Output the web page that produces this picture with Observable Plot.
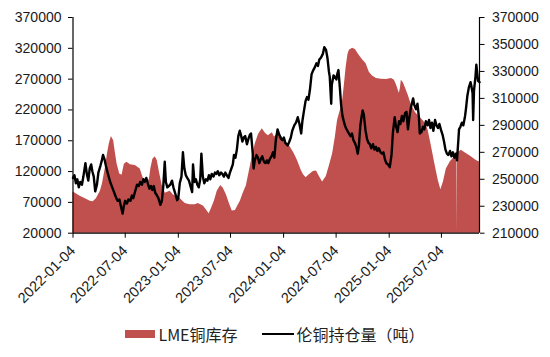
<!DOCTYPE html>
<html>
<head>
<meta charset="utf-8">
<script src="https://cdn.jsdelivr.net/npm/d3@7"></script>
<script src="https://cdn.jsdelivr.net/npm/@observablehq/plot@0.6"></script>
<style>
  html, body { margin: 0; padding: 0; background: #fff; }
  #chart { width: 550px; }
  #legend { display: flex; justify-content: center; align-items: center; gap: 24px;
    font: 16px "Noto Sans CJK SC", sans-serif; color: #222; height: 22px; line-height: 22px; margin-top: 3px; }
  .item { display: flex; align-items: center; }
  .sw-area { display: inline-block; width: 30px; height: 8px; background: #C0504D; margin-right: 3px; }
  .sw-line { display: inline-block; width: 32px; height: 2px; background: #000; margin-right: 3px; }
</style>
</head>
<body>
<div id="chart"></div>
<div id="legend">
  <div class="item"><span class="sw-area"></span><span>LME铜库存</span></div>
  <div class="item"><span class="sw-line"></span><span>伦铜持仓量（吨）</span></div>
</div>
<script>
const seriesNames = ["LME铜库存", "伦铜持仓量（吨）"];
const xTickLabels = ["2022-01-04","2022-07-04","2023-01-04","2023-07-04","2024-01-04","2024-07-04","2025-01-04","2025-07-04"];
const xDomain = ["2022-01-04", "2025-11-13"];
const leftTicks = [20000,70000,120000,170000,220000,270000,320000,370000];
const rightTicks = [210000,230000,250000,270000,290000,310000,330000,350000,370000];

// LME copper inventory (left axis)
const inventory = [
["2022-01-04",87000],["2022-01-12",85000],["2022-01-29",80000],["2022-02-16",76000],["2022-03-05",72000],["2022-03-15",71000],["2022-03-26",76000],["2022-04-09",88000],["2022-04-16",100000],["2022-04-26",125000],["2022-05-04",150000],["2022-05-10",165000],["2022-05-17",177000],["2022-05-25",170000],["2022-05-31",150000],["2022-06-06",132000],["2022-06-15",116000],["2022-06-23",114000],["2022-07-01",132000],["2022-07-10",135000],["2022-07-22",131000],["2022-08-08",130000],["2022-08-25",124000],["2022-09-04",110000],["2022-09-18",100000],["2022-09-26",108000],["2022-10-01",125000],["2022-10-08",140000],["2022-10-16",144000],["2022-10-23",138000],["2022-10-31",118000],["2022-11-09",98000],["2022-11-20",85000],["2022-11-30",87000],["2022-12-07",88000],["2022-12-18",82000],["2022-12-28",80000],
["2023-01-11",76000],["2023-01-28",68000],["2023-02-14",66000],["2023-03-04",66000],["2023-03-14",68000],["2023-04-01",64000],["2023-04-11",58000],["2023-04-21",51500],["2023-04-29",60000],["2023-05-09",72000],["2023-05-19",88000],["2023-05-31",97500],["2023-06-09",93000],["2023-06-20",82000],["2023-06-30",68000],["2023-07-10",56000],["2023-07-21",57000],["2023-08-07",72000],["2023-08-17",85000],["2023-08-28",97000],["2023-09-07",120000],["2023-09-17",143000],["2023-09-28",165000],["2023-10-09",180000],["2023-10-22",189600],["2023-11-02",182000],["2023-11-12",178000],["2023-11-26",183000],["2023-12-03",176000],["2023-12-13",180000],["2023-12-27",178000],
["2024-01-10",168000],["2024-01-27",160000],["2024-02-10",149000],["2024-02-21",138000],["2024-03-05",122000],["2024-03-13",115000],["2024-03-22",110000],["2024-04-02",115000],["2024-04-16",120000],["2024-04-27",121000],["2024-05-07",112000],["2024-05-18",103000],["2024-05-31",112000],["2024-06-11",130000],["2024-06-22",149000],["2024-07-01",175000],["2024-07-09",203000],["2024-07-19",220000],["2024-07-27",236000],["2024-08-02",262000],["2024-08-08",290000],["2024-08-14",310000],["2024-08-19",317000],["2024-08-30",320000],["2024-09-09",318000],["2024-09-16",313000],["2024-09-23",308000],["2024-10-03",302000],["2024-10-16",295000],["2024-10-27",281000],["2024-11-07",275000],["2024-11-21",271000],["2024-12-08",270000],["2024-12-25",269500],
["2025-01-12",271000],["2025-01-22",268000],["2025-01-29",261000],["2025-02-08",247000],["2025-02-12",255000],["2025-02-15",268000],["2025-02-22",264000],["2025-03-01",256000],["2025-03-11",244000],["2025-03-22",228000],["2025-04-05",216000],["2025-04-20",208000],["2025-05-03",202000],["2025-05-13",195000],["2025-05-19",187000],["2025-05-30",162000],["2025-06-11",133000],["2025-06-23",106000],["2025-07-02",90500],["2025-07-11",103000],["2025-07-21",124000],["2025-08-04",136000],["2025-08-19",143500],["2025-08-27",148000],["2025-08-28",20000],["2025-08-29",150000],["2025-09-11",154500],["2025-09-25",150000],["2025-10-13",145000],["2025-11-02",138000],["2025-11-13",135500]
];

// LME copper open interest (right axis)
const holdings = [
["2022-01-04",251000],["2022-01-09",253000],["2022-01-14",247000],["2022-01-19",250000],["2022-01-24",244000],["2022-01-29",248000],["2022-02-04",246000],["2022-02-09",252000],["2022-02-16",262000],["2022-02-21",254000],["2022-02-26",249000],["2022-03-03",258000],["2022-03-08",261000],["2022-03-12",256000],["2022-03-17",252000],["2022-03-22",241000],["2022-03-28",246000],["2022-04-02",255000],["2022-04-09",260000],["2022-04-14",264000],["2022-04-18",268000],["2022-04-23",265000],["2022-04-28",260000],["2022-05-05",254000],["2022-05-13",248000],["2022-05-20",244000],["2022-05-27",240000],["2022-06-03",236000],["2022-06-08",234000],["2022-06-14",235000],["2022-06-19",230000],["2022-06-25",224500],["2022-06-29",230000],["2022-07-04",234000],["2022-07-10",232000],["2022-07-15",235000],["2022-07-22",234000],["2022-07-27",238000],["2022-08-01",236000],["2022-08-06",240000],["2022-08-14",246000],["2022-08-20",245000],["2022-08-25",248000],["2022-08-31",246000],["2022-09-05",250000],["2022-09-10",248000],["2022-09-15",251000],["2022-09-20",247000],["2022-09-26",243000],["2022-10-01",245000],["2022-10-06",242000],["2022-10-11",245000],["2022-10-16",240000],["2022-10-22",238000],["2022-10-27",236000],["2022-11-03",231000],["2022-11-08",234000],["2022-11-13",245000],["2022-11-18",263000],["2022-11-22",248000],["2022-11-27",244000],["2022-12-02",245000],["2022-12-07",246000],["2022-12-13",249000],["2022-12-18",244000],["2022-12-25",239000],["2022-12-31",234500],
["2023-01-04",236000],["2023-01-09",247000],["2023-01-15",252000],["2023-01-20",270000],["2023-01-25",258000],["2023-01-30",253000],["2023-02-04",251000],["2023-02-10",249000],["2023-02-15",245000],["2023-02-21",240500],["2023-02-24",261000],["2023-03-01",248000],["2023-03-06",250000],["2023-03-11",246000],["2023-03-16",244000],["2023-03-21",250000],["2023-03-25",269000],["2023-03-30",252000],["2023-04-04",247000],["2023-04-10",250000],["2023-04-15",249000],["2023-04-20",253000],["2023-04-25",250000],["2023-04-30",254000],["2023-05-06",252000],["2023-05-11",255000],["2023-05-16",254000],["2023-05-21",256000],["2023-05-26",253000],["2023-06-01",255000],["2023-06-06",254000],["2023-06-11",252000],["2023-06-16",255000],["2023-06-21",253000],["2023-06-27",251000],["2023-07-02",255000],["2023-07-07",258000],["2023-07-12",261000],["2023-07-16",268000],["2023-07-21",266000],["2023-07-26",272000],["2023-07-31",282000],["2023-08-05",286000],["2023-08-09",283000],["2023-08-14",278000],["2023-08-19",281000],["2023-08-24",282000],["2023-08-30",276000],["2023-09-04",280000],["2023-09-09",283000],["2023-09-13",284000],["2023-09-18",272000],["2023-09-22",258000],["2023-09-26",264000],["2023-10-02",268000],["2023-10-07",266000],["2023-10-12",262000],["2023-10-17",265000],["2023-10-22",267000],["2023-10-28",263000],["2023-11-02",262000],["2023-11-07",264000],["2023-11-12",262000],["2023-11-17",265000],["2023-11-23",267000],["2023-11-28",270000],["2023-12-03",266000],["2023-12-08",279000],["2023-12-14",287000],["2023-12-20",283000],["2023-12-26",280000],["2023-12-31",279000],
["2024-01-05",281000],["2024-01-10",277000],["2024-01-18",275000],["2024-01-24",278000],["2024-01-29",281000],["2024-02-03",286000],["2024-02-10",290000],["2024-02-16",292000],["2024-02-22",296000],["2024-02-28",291000],["2024-03-05",284000],["2024-03-09",293000],["2024-03-14",300000],["2024-03-20",308000],["2024-03-25",311000],["2024-03-30",309000],["2024-04-04",316000],["2024-04-10",328000],["2024-04-16",331000],["2024-04-21",333000],["2024-04-27",336000],["2024-05-02",334000],["2024-05-07",339000],["2024-05-12",340000],["2024-05-19",343000],["2024-05-24",348000],["2024-05-30",346000],["2024-06-04",340000],["2024-06-09",330000],["2024-06-12",326000],["2024-06-17",306000],["2024-06-19",320000],["2024-06-25",327000],["2024-06-30",326000],["2024-07-05",324000],["2024-07-08",328000],["2024-07-12",331000],["2024-07-17",318000],["2024-07-21",306000],["2024-07-26",297000],["2024-08-02",291000],["2024-08-07",288000],["2024-08-12",286000],["2024-08-17",284000],["2024-08-23",282000],["2024-08-28",284000],["2024-09-02",279000],["2024-09-07",277000],["2024-09-12",274000],["2024-09-17",269000],["2024-09-21",275000],["2024-09-26",290000],["2024-09-30",296000],["2024-10-04",301000],["2024-10-08",298000],["2024-10-14",286000],["2024-10-19",280000],["2024-10-24",277000],["2024-10-29",276000],["2024-11-03",273000],["2024-11-09",276000],["2024-11-14",272000],["2024-11-19",274000],["2024-11-24",271000],["2024-11-29",273000],["2024-12-05",270000],["2024-12-10",269000],["2024-12-15",270000],["2024-12-20",265000],["2024-12-25",262000],["2024-12-31",261000],
["2025-01-06",259000],["2025-01-12",268000],["2025-01-17",285000],["2025-01-23",296000],["2025-01-27",290000],["2025-02-02",285000],["2025-02-07",293000],["2025-02-12",291000],["2025-02-17",297000],["2025-02-22",293000],["2025-02-28",299000],["2025-03-05",300000],["2025-03-10",287000],["2025-03-15",296000],["2025-03-20",303000],["2025-03-28",310000],["2025-04-01",305000],["2025-04-07",302000],["2025-04-12",306000],["2025-04-17",296000],["2025-04-20",284000],["2025-04-26",285000],["2025-05-01",289000],["2025-05-06",287000],["2025-05-11",293000],["2025-05-17",290000],["2025-05-22",294000],["2025-05-27",288000],["2025-06-01",292000],["2025-06-06",286000],["2025-06-12",294000],["2025-06-17",290000],["2025-06-22",288000],["2025-06-27",291000],["2025-07-02",287000],["2025-07-08",283000],["2025-07-13",278000],["2025-07-18",272000],["2025-07-23",269000],["2025-07-28",268000],["2025-08-03",271000],["2025-08-08",267000],["2025-08-13",270000],["2025-08-18",266000],["2025-08-23",269000],["2025-08-27",264000],["2025-09-01",280000],["2025-09-03",287000],["2025-09-08",289000],["2025-09-13",292000],["2025-09-18",290000],["2025-09-24",297000],["2025-09-27",302000],["2025-10-02",312000],["2025-10-07",318000],["2025-10-13",322000],["2025-10-16",319000],["2025-10-20",314000],["2025-10-22",294000],["2025-10-25",316000],["2025-10-30",326000],["2025-11-02",335000],["2025-11-06",327000],["2025-11-08",323000],["2025-11-13",322000]
];

const parse = d3.utcParse("%Y-%m-%d");
const inv = inventory.map(([d, v]) => ({date: parse(d), value: v}));
const hold = holdings.map(([d, v]) => ({date: parse(d), value: v}));
const xStart = parse(xDomain[0]), xEnd = parse(xDomain[1]);

// map right-axis values onto the left scale
const L0 = leftTicks[0], L1 = leftTicks[leftTicks.length - 1];
const R0 = rightTicks[0], R1 = rightTicks[rightTicks.length - 1];
const k = (L1 - L0) / (R1 - R0);
const toLeft = (r) => L0 + (r - R0) * k;
const fromLeft = (l) => R0 + (l - L0) / k;

const chart = Plot.plot({
  width: 550,
  height: 320,
  marginLeft: 72.5,
  marginRight: 71,
  marginTop: 17,
  marginBottom: 87.3,
  x: {type: "utc", domain: [xStart, xEnd]},
  y: {domain: [L0, L1]},
  style: {fontFamily: "'Liberation Sans', Arial, sans-serif", fontSize: "14px", color: "#1a1a1a", background: "#fff"},
  marks: [
    Plot.areaY(inv, {x: "date", y1: L0, y2: "value", fill: "#C0504D"}),
    Plot.line(hold, {x: "date", y: (d) => toLeft(d.value), stroke: "#000", strokeWidth: 2.4, strokeLinejoin: "round"}),
    Plot.ruleX([xStart], {stroke: "#000", strokeWidth: 1.2}),
    Plot.ruleX([xEnd], {stroke: "#000", strokeWidth: 1.2}),
    Plot.ruleY([L0], {stroke: "#000", strokeWidth: 1.2}),
    Plot.axisY(leftTicks, {anchor: "left", tickSize: 4.5, tickPadding: 7, tickFormat: (d) => String(d), label: null, stroke: "#000"}),
    Plot.axisY(rightTicks.map(toLeft), {anchor: "right", tickSize: 4.5, tickPadding: 8, tickFormat: (d) => String(Math.round(fromLeft(d))), label: null, stroke: "#000"}),
    Plot.axisX(xTickLabels.map(parse), {anchor: "bottom", tickSize: 5, tickRotate: -45, tickPadding: 10, fontSize: 14.5, tickFormat: d3.utcFormat("%Y-%m-%d"), label: null, stroke: "#000"})
  ]
});
document.getElementById("chart").appendChild(chart);
</script>
</body>
</html>
